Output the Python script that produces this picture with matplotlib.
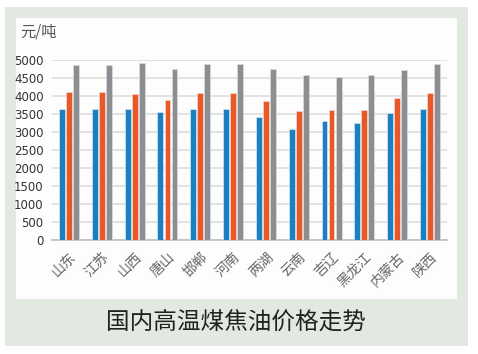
import numpy as np
import matplotlib
matplotlib.use('Agg')
import matplotlib.pyplot as plt
from matplotlib.patches import Rectangle

plt.rcParams['font.family'] = ['Noto Sans CJK SC', 'DejaVu Sans']

regions = ['山东', '江苏', '山西', '唐山', '邯郸', '河南', '两湖', '云南', '吉辽', '黑龙江', '内蒙古', '陕西']
blue_vals = [3650, 3650, 3630, 3550, 3630, 3630, 3420, 3080, 3310, 3260, 3520, 3640]
orange_vals = [4120, 4100, 4050, 3880, 4080, 4080, 3870, 3580, 3610, 3600, 3950, 4090]
gray_vals = [4850, 4850, 4920, 4750, 4880, 4880, 4740, 4590, 4520, 4590, 4720, 4900]
yticks = [0, 500, 1000, 1500, 2000, 2500, 3000, 3500, 4000, 4500, 5000]

W, H = 478, 354
fig = plt.figure(figsize=(W / 100, H / 100), dpi=100)
fig.patch.set_facecolor('white')

# outer tinted panel and inner white panel
fig.patches.append(Rectangle((5 / W, 1 - 346 / H), 463 / W, 339 / H,
                             transform=fig.transFigure, facecolor='#e2e9e1',
                             edgecolor='none', zorder=-2))
fig.patches.append(Rectangle((16 / W, 1 - 299 / H), 441 / W, 281 / H,
                             transform=fig.transFigure, facecolor='#fdfdfd',
                             edgecolor='none', zorder=-1))

ax = fig.add_axes([52 / W, 1 - 240 / H, 395 / W, 180 / H])
ax.set_facecolor('none')

x = np.arange(len(regions))
bw = 0.18
off = 0.215
ax.bar(x - off, blue_vals, bw, color='#1a80c2', edgecolor='#d8e8f3', linewidth=0.5, zorder=3)
ax.bar(x, orange_vals, bw, color='#e8592a', edgecolor='#f5d8cc', linewidth=0.5, zorder=3)
ax.bar(x + off, gray_vals, bw, color='#8b8e92', edgecolor='#dddddd', linewidth=0.5, zorder=3)

ax.set_xlim(-0.52, len(regions) - 0.48)
ax.set_ylim(0, 5000)
ax.set_yticks(yticks)
ax.set_yticklabels([str(v) for v in yticks], fontsize=8.5, color='#333333',
                   family=['DejaVu Sans'])
ax.yaxis.grid(True, color='#e0e0e0', linewidth=1.3, zorder=0)
ax.set_axisbelow(True)
ax.set_xticks(x)
ax.set_xticklabels(regions, rotation=45, fontsize=10, color='#666666',
                   ha='right', va='top', rotation_mode='anchor')
ax.tick_params(axis='y', length=0, pad=6)
ax.tick_params(axis='x', length=0, pad=7)
for s in ['top', 'right', 'left']:
    ax.spines[s].set_visible(False)
ax.spines['bottom'].set_color('#bfbfbf')
ax.spines['bottom'].set_linewidth(1.2)

fig.text(20 / W, 1 - 32 / H, '元/吨', fontsize=11, color='#555555', va='center', ha='left')
fig.text(236 / W, 1 - 322 / H, '国内高温煤焦油价格走势', fontsize=17, color='#222222',
         va='center', ha='center')

fig.savefig('out.png', dpi=100)
